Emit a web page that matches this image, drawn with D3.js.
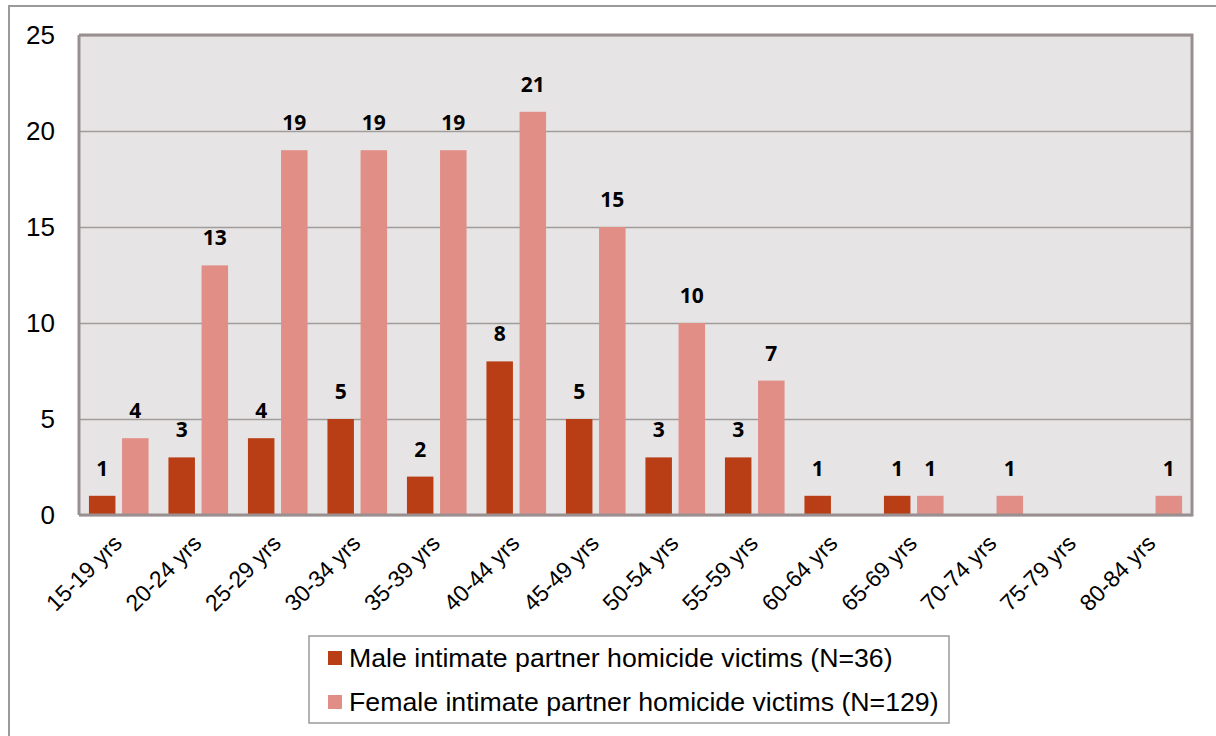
<!DOCTYPE html>
<html>
<head>
<meta charset="utf-8">
<script src="https://cdn.jsdelivr.net/npm/d3@7"></script>
<style>
  body { margin: 0; background: #fff; }
  text { font-family: 'Liberation Sans', Arial, sans-serif; }
</style>
</head>
<body>
<div id="chart"></div>
<script>
const ageGroups = ['15-19 yrs', '20-24 yrs', '25-29 yrs', '30-34 yrs', '35-39 yrs', '40-44 yrs', '45-49 yrs',
  '50-54 yrs', '55-59 yrs', '60-64 yrs', '65-69 yrs', '70-74 yrs', '75-79 yrs', '80-84 yrs']
const maleVictims = [1, 3, 4, 5, 2, 8, 5, 3, 3, 1, 1, 0, 0, 0]
const femaleVictims = [4, 13, 19, 19, 19, 21, 15, 10, 7, 0, 1, 1, 0, 1]
const seriesNames = ['Male intimate partner homicide victims (N=36)', 'Female intimate partner homicide victims (N=129)']
const yTicks = [0, 5, 10, 15, 20, 25]

const colors = ['#ba3e15', '#e08e86']

const margin = { top: 35, right: 24, bottom: 221, left: 79 }
const W = 1216
const H = 736
const width = W - margin.left - margin.right
const height = H - margin.top - margin.bottom

const root = d3.select('#chart').append('svg')
  .attr('width', W)
  .attr('height', H)

// outer frame
root.append('rect')
  .attr('x', 9).attr('y', 6)
  .attr('width', W + 10).attr('height', H + 10)
  .attr('fill', 'none')
  .attr('stroke', '#9a9a9a')
  .attr('stroke-width', 2)

const svg = root.append('g')
  .attr('transform', 'translate(' + margin.left + ',' + margin.top + ')')

const x = d3.scaleBand().domain(ageGroups).range([0, width]).paddingInner(0.25).paddingOuter(0.125)
const xSub = d3.scaleBand().domain([0, 1]).range([0, x.bandwidth()]).paddingInner(0.2)
const y = d3.scaleLinear().domain([0, 25]).range([height, 0])

svg.append('rect')
  .attr('width', width).attr('height', height)
  .attr('fill', '#e7e4e5')

const yAxis = d3.axisLeft(y).tickValues(yTicks).tickSize(-width).tickFormat(d3.format('d'))
svg.append('g')
  .attr('class', 'y-axis')
  .call(yAxis)
  .call(g => g.select('.domain').remove())
  .call(g => g.selectAll('.tick line').attr('stroke', '#a19c9c').attr('stroke-width', 1.5))
  .call(g => g.selectAll('.tick text')
    .attr('x', -24)
    .attr('font-size', 26)
    .attr('fill', '#000')
    .attr('font-family', "'Liberation Sans', Arial, sans-serif"))

const data = ageGroups.map((a, i) => ({ age: a, values: [maleVictims[i], femaleVictims[i]] }))

const groups = svg.selectAll('.grp')
  .data(data)
  .enter()
  .append('g')
  .attr('transform', d => 'translate(' + x(d.age) + ',0)')

groups.selectAll('rect')
  .data(d => d.values.map((v, k) => ({ v, k })))
  .enter()
  .append('rect')
  .attr('x', d => xSub(d.k))
  .attr('width', xSub.bandwidth())
  .attr('y', d => y(d.v))
  .attr('height', d => height - y(d.v))
  .attr('fill', d => colors[d.k])

groups.selectAll('.lbl')
  .data(d => d.values.map((v, k) => ({ v, k })).filter(d => d.v > 0))
  .enter()
  .append('text')
  .attr('class', 'lbl')
  .attr('x', d => xSub(d.k) + xSub.bandwidth() / 2)
  .attr('y', d => y(d.v) - 20)
  .attr('text-anchor', 'middle')
  .attr('font-size', 21)
  .attr('font-weight', 'bold')
  .style('font-family', "'Open Sans', 'DejaVu Sans', sans-serif")
  .text(d => d.v)

// frame around plot
svg.append('path')
  .attr('d', 'M0,0H' + width + 'V' + height + 'H0')
  .attr('fill', 'none')
  .attr('stroke', '#998f90')
  .attr('stroke-width', 3)
svg.append('line')
  .attr('x1', 0).attr('x2', 0).attr('y1', 0).attr('y2', height)
  .attr('stroke', '#998f90')
  .attr('stroke-width', 3)

// x labels
svg.append('g')
  .selectAll('text')
  .data(ageGroups)
  .enter()
  .append('text')
  .attr('transform', d => 'translate(' + (x(d) + x.bandwidth() / 2 - 1) + ',' + (height + 24) + ') rotate(-45)')
  .attr('text-anchor', 'end')
  .attr('font-size', 23)
  .attr('dy', '0.35em')
  .text(d => d)

// legend
const legend = root.append('g').attr('transform', 'translate(309,636)')
legend.append('rect')
  .attr('width', 640).attr('height', 87)
  .attr('fill', '#fff')
  .attr('stroke', '#9a9a9a')
  .attr('stroke-width', 1.5)

seriesNames.forEach((name, i) => {
  legend.append('rect')
    .attr('x', 19).attr('y', 15 + i * 44)
    .attr('width', 14).attr('height', 14)
    .attr('fill', colors[i])
  legend.append('text')
    .attr('x', 40).attr('y', 31 + i * 44)
    .attr('font-size', 26.7)
    .text(name)
})
</script>
</body>
</html>
